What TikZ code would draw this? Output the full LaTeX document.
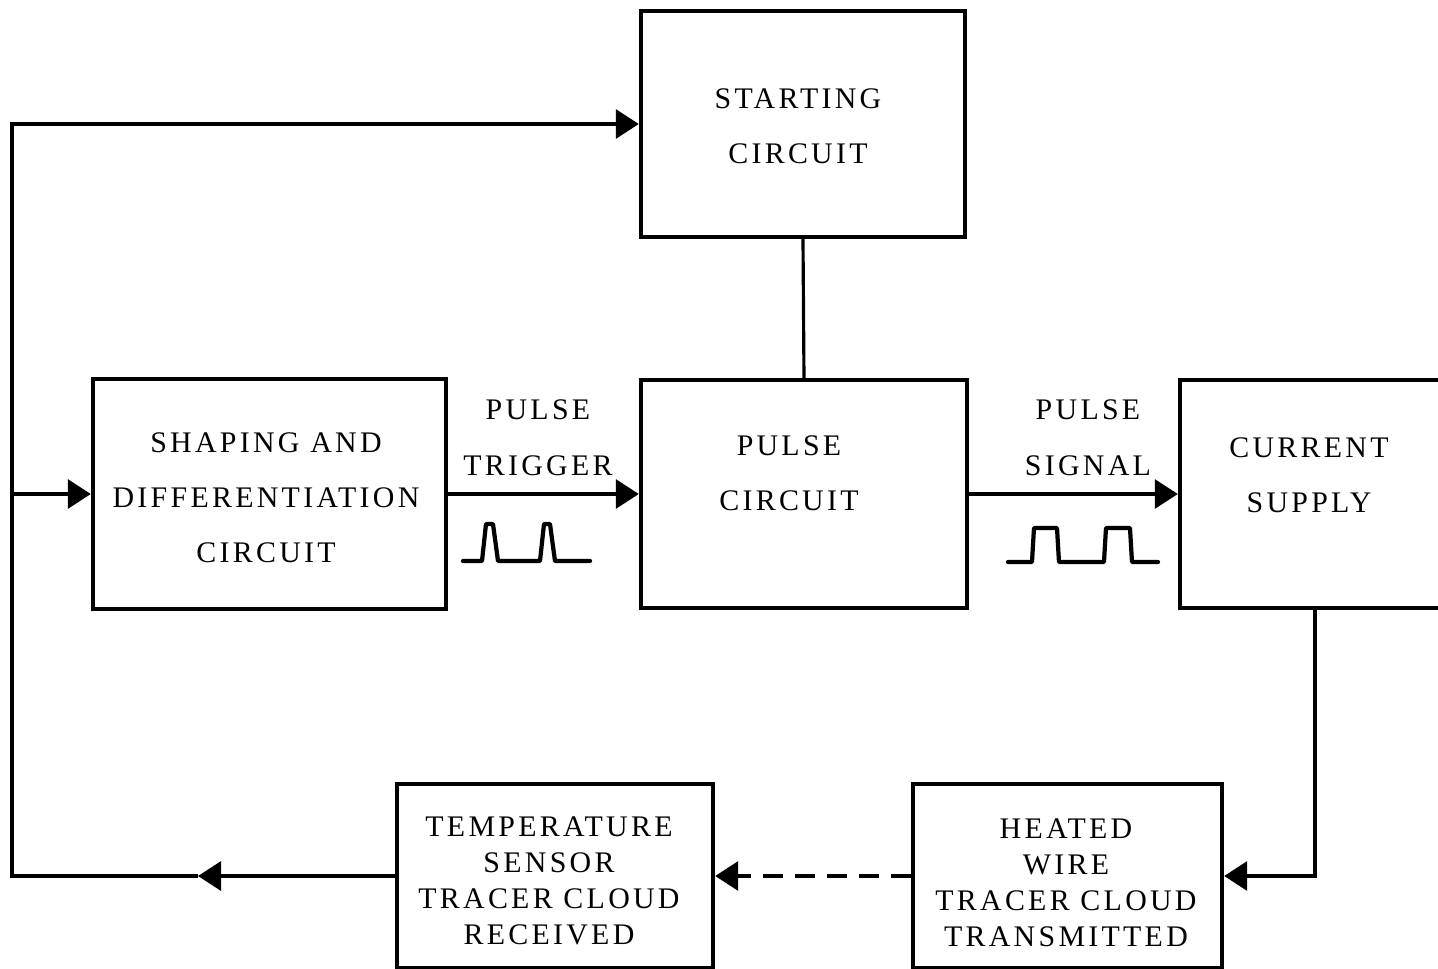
\documentclass[tikz,border=0pt]{standalone}
\usepackage{fontspec}
\setmainfont{Liberation Serif}[LetterSpace=11]
\usetikzlibrary{arrows.meta}
\begin{document}
\begin{tikzpicture}[x=0.01cm,y=-0.01cm,
  box/.style={draw, line width=1.2pt, inner sep=0pt},
  txt/.style={inner sep=0pt, align=center, font=\fontsize{8.5}{15.6}\selectfont},
  smalltxt/.style={txt, font=\fontsize{8.5}{10.2}\selectfont},
  lbl/.style={inner sep=0pt, align=center, font=\fontsize{8.5}{16}\selectfont},
  conn/.style={line width=0.9pt},
  arr/.style={-{Triangle[length=2.3mm,width=2.9mm]}},
  wave/.style={line width=1.2pt, line join=round, line cap=round}]
\useasboundingbox (0,0) rectangle (1438,969);
% boxes
\node[box, minimum width=3.24cm, minimum height=2.26cm] (start) at (803,124) {};
\node[box, minimum width=3.53cm, minimum height=2.30cm] (shape) at (269.5,494) {};
\node[box, minimum width=3.26cm, minimum height=2.28cm] (pulse) at (804,494) {};
\node[box, minimum width=2.62cm, minimum height=2.28cm] (curr) at (1311,494) {};
\node[box, minimum width=3.16cm, minimum height=1.84cm] (temp) at (555,876) {};
\node[box, minimum width=3.09cm, minimum height=1.84cm] (heat) at (1067.5,876) {};
% texts
\node[txt] (startT) at (798,126.5) {STARTING\\CIRCUIT};
\node[txt] (shapeT) at (266,498) {SHAPING AND\\DIFFERENTIATION\\CIRCUIT};
\node[txt] (pulseT) at (789,473.5) {PULSE\\CIRCUIT};
\node[txt] (currT) at (1309,475) {CURRENT\\SUPPLY};
\node[smalltxt] (tempT) at (549,881) {TEMPERATURE\\SENSOR\\TRACER CLOUD\\RECEIVED};
\node[smalltxt] (heatT) at (1066,883) {HEATED\\WIRE\\TRACER CLOUD\\TRANSMITTED};
\node[lbl] (trig) at (538,438) {PULSE\\TRIGGER};
\node[lbl] (sig) at (1088,438) {PULSE\\SIGNAL};
\coordinate (tip) at (198,876);
\coordinate (corner) at (12,876);
\coordinate (down) at (1315,607);
% connectors
\draw[conn, arr] (temp.west) -- (tip);
\draw[conn, arr, line join=miter] (tip) -- (corner) |- (start.west);
\draw[conn, arr] (shape.west -| corner) -- (shape.west);
\draw[conn, arr] (shape.east) -- (pulse.west);
\draw[conn] (start.south) -- (pulse.north);
\draw[conn, arr] (pulse.east) -- (curr.west);
\draw[conn, arr] (down) |- (heat.east);
\draw[conn, arr, dash pattern=on 0.2cm off 0.12cm] (heat.west) -- (temp.east);
% waveforms
\draw[wave] (463,561) -- (482,561) -- (486,524) -- (493,524) -- (498,561) -- (540,561) -- (544,524) -- (550,524) -- (555,561) -- (590,561);
\draw[wave] (1008,562) -- (1032,562) -- (1034,528) -- (1057,528) -- (1059,562) -- (1104,562) -- (1106,528) -- (1130,528) -- (1132,562) -- (1158,562);
\end{tikzpicture}
\end{document}
